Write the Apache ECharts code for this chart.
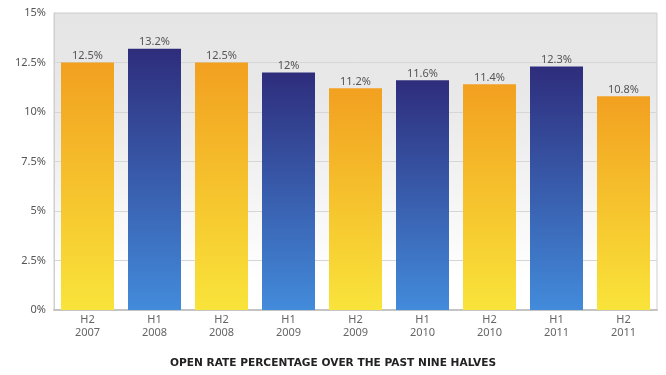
<!DOCTYPE html>
<html>
<head>
<meta charset="utf-8">
<script src="https://cdn.jsdelivr.net/npm/echarts@6/dist/echarts.min.js"></script>
<style>
  html, body { margin: 0; padding: 0; background: #fff; }
  #chart { width: 666px; height: 375px; }
</style>
</head>
<body>
<div id="chart"></div>
<script>
  var halves = ['H2', 'H1', 'H2', 'H1', 'H2', 'H1', 'H2', 'H1', 'H2'];
  var years = ['2007', '2008', '2008', '2009', '2009', '2010', '2010', '2011', '2011'];
  var openRate = [12.5, 13.2, 12.5, 12, 11.2, 11.6, 11.4, 12.3, 10.8];
  var yTicks = [0, 2.5, 5, 7.5, 10, 12.5, 15];

  var orange = new echarts.graphic.LinearGradient(0, 0, 0, 1, [
    { offset: 0, color: '#f2a020' },
    { offset: 1, color: '#f9e43a' }
  ]);
  var blue = new echarts.graphic.LinearGradient(0, 0, 0, 1, [
    { offset: 0, color: '#2e2d7c' },
    { offset: 1, color: '#438bdb' }
  ]);

  var categories = halves.map(function (h, i) { return h + '\n' + years[i]; });
  var barData = openRate.map(function (v, i) {
    return { value: v, itemStyle: { color: halves[i] === 'H1' ? blue : orange } };
  });

  var chart = echarts.init(document.getElementById('chart'));
  chart.setOption({
    animation: false,
    textStyle: { fontFamily: 'Noto Sans' },
    title: {
      text: 'OPEN RATE PERCENTAGE OVER THE PAST NINE HALVES',
      left: 'center',
      top: 353,
      textStyle: {
        fontFamily: 'DejaVu Sans',
        fontSize: 10.6,
        fontWeight: 'bold',
        color: '#222'
      }
    },
    grid: {
      left: 54,
      right: 9,
      top: 13,
      bottom: 65,
      show: true,
      borderColor: '#cfcfcf',
      borderWidth: 1,
      backgroundColor: new echarts.graphic.LinearGradient(0, 0, 0, 1, [
        { offset: 0, color: '#e5e5e5' },
        { offset: 0.3, color: '#e9e9e9' },
        { offset: 0.9, color: '#ffffff' },
        { offset: 1, color: '#ffffff' }
      ])
    },
    xAxis: {
      type: 'category',
      data: categories,
      axisTick: { show: false },
      axisLine: { lineStyle: { color: '#c4c4c4', width: 2 } },
      axisLabel: {
        fontFamily: 'Noto Sans',
        color: '#666',
        fontSize: 11,
        lineHeight: 13.5,
        margin: 3
      }
    },
    yAxis: {
      type: 'value',
      min: yTicks[0],
      max: yTicks[yTicks.length - 1],
      interval: 2.5,
      axisLine: { show: true, lineStyle: { color: '#cfcfcf' } },
      axisTick: { show: false },
      splitLine: { lineStyle: { color: '#d6d6d6' } },
      axisLabel: {
        fontFamily: 'Noto Sans',
        color: '#555',
        fontSize: 11,
        margin: 8,
        formatter: function (v) { return v + '%'; }
      }
    },
    series: [
      {
        type: 'bar',
        data: barData,
        barWidth: 53,
        label: {
          show: true,
          position: 'top',
          distance: 1,
          fontFamily: 'Noto Sans',
          color: '#555',
          fontSize: 11,
          formatter: function (p) { return p.value + '%'; }
        }
      }
    ]
  });
</script>
</body>
</html>
